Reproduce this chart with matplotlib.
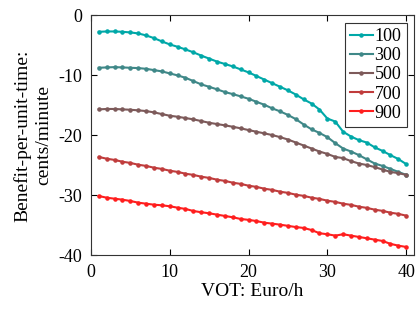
import matplotlib
matplotlib.use("Agg")
import matplotlib.pyplot as plt

plt.rcParams["font.family"] = ["Liberation Serif", "DejaVu Serif"]

vot = list(range(1, 41))
labels = ["100", "300", "500", "700", "900"]
colors = ["#00a8a8", "#3f8888", "#7d5a5a", "#c03c3c", "#ff1e1e"]

b100 = [-2.73, -2.67, -2.67, -2.73, -2.83, -3.0, -3.33, -3.78, -4.33, -4.83,
        -5.23, -5.67, -6.15, -6.7, -7.2, -7.7, -8.1, -8.5, -9.0, -9.5,
        -10.1, -10.7, -11.3, -11.9, -12.5, -13.2, -14.0, -14.7, -15.7, -17.2,
        -17.7, -19.4, -20.2, -20.8, -21.2, -22.0, -22.6, -23.3, -23.95, -24.8]
b300 = [-8.73, -8.67, -8.62, -8.67, -8.73, -8.78, -8.9, -9.12, -9.33, -9.67,
        -10.0, -10.4, -10.95, -11.5, -11.9, -12.33, -12.78, -13.12, -13.5, -13.9,
        -14.4, -14.9, -15.5, -16.0, -16.6, -17.3, -18.2, -19.0, -19.6, -20.3,
        -21.3, -22.2, -22.7, -23.3, -24.0, -24.7, -25.1, -25.6, -26.1, -26.6]
b500 = [-15.67, -15.6, -15.6, -15.67, -15.73, -15.83, -15.95, -16.17, -16.45, -16.73,
        -16.9, -17.12, -17.33, -17.62, -17.9, -18.12, -18.33, -18.57, -18.83, -19.12,
        -19.4, -19.67, -19.95, -20.3, -20.7, -21.2, -21.7, -22.2, -22.7, -23.1,
        -23.6, -23.8, -24.3, -24.7, -24.95, -25.3, -25.7, -26.1, -26.3, -26.6]
b700 = [-23.6, -23.9, -24.1, -24.4, -24.6, -24.9, -25.1, -25.4, -25.6, -25.9,
        -26.1, -26.4, -26.6, -26.9, -27.1, -27.4, -27.6, -27.9, -28.1, -28.4,
        -28.6, -28.9, -29.1, -29.4, -29.6, -29.9, -30.1, -30.4, -30.6, -30.9,
        -31.1, -31.4, -31.6, -31.9, -32.1, -32.4, -32.6, -32.9, -33.1, -33.4]
b900 = [-30.12, -30.4, -30.57, -30.73, -30.95, -31.23, -31.4, -31.57, -31.67, -31.83,
        -32.07, -32.28, -32.62, -32.83, -33.0, -33.23, -33.45, -33.67, -33.95, -34.1,
        -34.3, -34.57, -34.73, -34.9, -35.1, -35.3, -35.45, -35.8, -36.33, -36.5,
        -36.73, -36.5, -36.73, -36.95, -37.17, -37.4, -37.62, -38.1, -38.4, -38.62]
series = [b100, b300, b500, b700, b900]

fig = plt.figure(figsize=(4.17, 3.09), dpi=100)
ax = fig.add_axes([0.218, 0.174, 0.775, 0.776])
for ys, lab, col in zip(series, labels, colors):
    ax.plot(vot, ys, color=col, lw=1.5, marker=".", ms=4.5, label=lab)

ax.set_xlim(0, 41)
ax.set_ylim(-40, 0)
ax.set_xticks([0, 10, 20, 30, 40])
ax.set_yticks([-40, -30, -20, -10, 0])
ax.set_yticklabels(["-40", "-30", "-20", "-10", "0"])
ax.tick_params(direction="in", top=True, right=True, labelsize=13,
               length=4, width=0.8, pad=6)
for s in ax.spines.values():
    s.set_linewidth(0.8)
    s.set_color("#333333")
ax.set_xlabel("VOT: Euro/h", fontsize=14, labelpad=2)
ax.set_ylabel("Benefit-per-unit-time:\ncents/minute", fontsize=14,
              linespacing=1.25, labelpad=5)
leg = ax.legend(loc="upper right", fontsize=13, frameon=True, fancybox=False,
                edgecolor="#333333", framealpha=1, handlelength=1.25,
                handletextpad=0.1, borderpad=0.3, labelspacing=0.12,
                borderaxespad=0.4)
leg.get_frame().set_linewidth(0.8)

fig.savefig("out.png", dpi=100)
